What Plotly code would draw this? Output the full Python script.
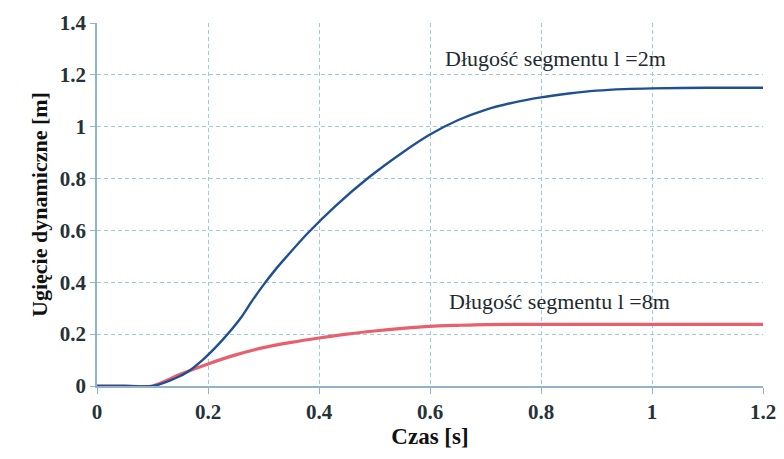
import plotly.graph_objects as go

# Data
time_2m = [0, 0.05, 0.1, 0.13, 0.16, 0.19, 0.225, 0.26, 0.28, 0.3, 0.32, 0.34, 0.38, 0.43, 0.49,
           0.55, 0.6, 0.65, 0.7, 0.75, 0.8, 0.85, 0.9, 0.95, 1.0, 1.1, 1.2]
defl_2m = [0, 0, 0, 0.02, 0.05, 0.1, 0.175, 0.265, 0.33, 0.39, 0.445, 0.495, 0.59, 0.695, 0.805,
           0.9, 0.97, 1.025, 1.065, 1.093, 1.113, 1.128, 1.139, 1.145, 1.148, 1.15, 1.15]

time_8m = [0, 0.05, 0.1, 0.15, 0.2, 0.25, 0.3, 0.35, 0.4, 0.45, 0.5, 0.55, 0.6, 0.65, 0.7,
           0.8, 0.9, 1.0, 1.1, 1.2]
defl_8m = [0, 0, 0, 0.045, 0.085, 0.12, 0.148, 0.168, 0.185, 0.2, 0.212, 0.222, 0.23, 0.234,
           0.237, 0.238, 0.238, 0.238, 0.238, 0.238]

x_ticks = [0, 0.2, 0.4, 0.6, 0.8, 1.0, 1.2]
x_tick_labels = ["0", "0.2", "0.4", "0.6", "0.8", "1", "1.2"]
y_ticks = [0, 0.2, 0.4, 0.6, 0.8, 1.0, 1.2, 1.4]
y_tick_labels = ["0", "0.2", "0.4", "0.6", "0.8", "1", "1.2", "1.4"]

label_2m = "Długość segmentu l =2m"
label_8m = "Długość segmentu l =8m"

FONT = "Liberation Serif, Times New Roman, serif"
GRID = "#9ccbe3"
AXIS = "#8fb4cc"

fig = go.Figure()
fig.add_trace(go.Scatter(x=time_8m, y=defl_8m, mode="lines", line=dict(color="#e8606e", width=3.2),
                         line_shape="spline", line_smoothing=0.8, showlegend=False))
fig.add_trace(go.Scatter(x=time_2m, y=defl_2m, mode="lines", line=dict(color="#1f4f95", width=2.4),
                         line_shape="spline", line_smoothing=0.7, showlegend=False))

fig.add_annotation(x=0.827, y=1.264, text=label_2m, showarrow=False, xref="x", yref="y",
                   font=dict(family=FONT, size=22, color="#1e2a30"), xanchor="center", yanchor="middle")
fig.add_annotation(x=0.833, y=0.326, text=label_8m, showarrow=False, xref="x", yref="y",
                   font=dict(family=FONT, size=22, color="#1e2a30"), xanchor="center", yanchor="middle")

# page body adds an 8px margin, so the figure is sized to fit inside it
fig.update_layout(
    width=768, height=443,
    margin=dict(l=89, r=13, t=15, b=65),
    paper_bgcolor="white", plot_bgcolor="white",
    font=dict(family=FONT, color="#222222"),
)
fig.update_xaxes(
    range=[0, 1.2], tickvals=x_ticks, ticktext=x_tick_labels,
    showgrid=True, gridcolor=GRID, griddash="4px,3px", gridwidth=1,
    showline=True, linecolor=AXIS, linewidth=1.5, mirror=False,
    ticks="outside", ticklen=6, tickcolor=AXIS, ticklabeloverflow="allow",
    tickfont=dict(family=FONT, size=21, color="#263238", weight="bold"),
    title=dict(text="Czas [s]", font=dict(family=FONT, size=23, color="#111", weight="bold"), standoff=4),
    zeroline=False, automargin=False,
)
fig.update_yaxes(
    range=[0, 1.4], tickvals=y_ticks, ticktext=y_tick_labels,
    showgrid=True, gridcolor=GRID, griddash="4px,3px", gridwidth=1,
    showline=True, linecolor=AXIS, linewidth=1.5,
    ticks="outside", ticklen=5, tickcolor=AXIS,
    tickfont=dict(family=FONT, size=21, color="#263238", weight="bold"),
    title=dict(text="Ugięcie dynamiczne [m]", font=dict(family=FONT, size=22, color="#111", weight="bold"), standoff=6),
    zeroline=False, automargin=False,
)
fig.write_html("out.html")
